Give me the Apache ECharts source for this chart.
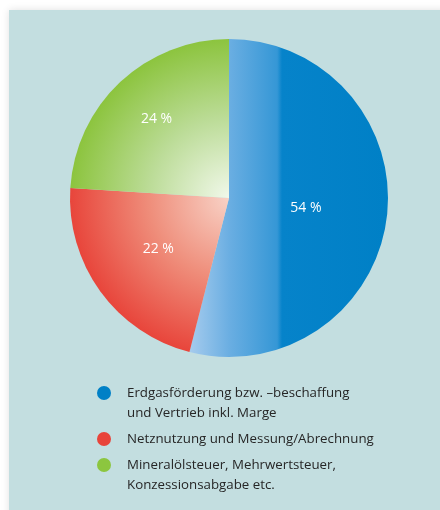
<!DOCTYPE html>
<html>
<head>
<meta charset="utf-8">
<script src="https://cdn.jsdelivr.net/npm/echarts@6/dist/echarts.min.js"></script>
<style>
  html, body { margin: 0; padding: 0; background: #fff; }
  #chart { width: 440px; height: 510px; }
</style>
</head>
<body>
<div id="chart"></div>
<script>
// Kostenanteile Gaspreis
const categories = [
  'Erdgasförderung bzw. –beschaffung\nund Vertrieb inkl. Marge',
  'Netznutzung und Messung/Abrechnung',
  'Mineralölsteuer, Mehrwertsteuer,\nKonzessionsabgabe etc.'
];
const shares = [54, 22, 24];
const dotColors = ['#0080c6', '#e8443a', '#8cc63f'];

const cx = 229, cy = 198, rad = 159;
const font = '"Open Sans", "Noto Sans", sans-serif';

const chart = echarts.init(document.getElementById('chart'), null, { renderer: 'canvas' });

// slice fills
var fills = [
  {
    type: 'linear', x: 190, y: 0, x2: 388, y2: 0, global: true,
    colorStops: [
      { offset: 0, color: '#a5cbed' },
      { offset: 0.2, color: '#6aaee2' },
      { offset: 0.44, color: '#3597d6' },
      { offset: 0.465, color: '#0683ca' },
      { offset: 1, color: '#0080c6' }
    ]
  },
  {
    type: 'radial', x: cx, y: cy, r: rad, global: true,
    colorStops: [
      { offset: 0, color: '#f8d2c6' },
      { offset: 0.5, color: '#ef8e7b' },
      { offset: 1, color: '#e8453b' }
    ]
  },
  {
    type: 'radial', x: cx, y: cy, r: rad, global: true,
    colorStops: [
      { offset: 0, color: '#f1f8ea' },
      { offset: 0.5, color: '#bcdc98' },
      { offset: 1, color: '#8cc43e' }
    ]
  }
];

var labelShift = [[-5, 0], [-4, 3], [-16, -19]];

function legendFor(i, top) {
  var twoLines = categories[i].indexOf('\n') >= 0;
  return {
    left: 97,
    top: top,
    padding: 0,
    itemWidth: 14,
    itemHeight: 14,
    icon: 'circle',
    data: [{ name: categories[i], itemStyle: { color: dotColors[i] } }],
    // blank first line keeps the dot level with the first text line
    formatter: function (name) {
      return twoLines ? '\n' + name : name;
    },
    textStyle: {
      fontFamily: font,
      fontSize: 13.3,
      color: '#262626',
      lineHeight: 20,
      padding: [0, 0, 0, 11]
    }
  };
}

var option = {
  backgroundColor: '#ffffff',
  animation: false,
  graphic: [
    {
      type: 'rect',
      shape: { x: 9, y: 10, width: 440, height: 510 },
      style: {
        fill: '#c3dee0',
        shadowBlur: 8,
        shadowColor: 'rgba(0,0,0,0.12)'
      },
      z: -10
    }
  ],
  legend: [
    legendFor(0, 363),
    legendFor(1, 429),
    legendFor(2, 435)
  ],
  series: [
    {
      type: 'pie',
      center: [cx, cy],
      radius: rad,
      startAngle: 90,
      clockwise: true,
      silent: true,
      label: {
        show: true,
        position: 'inside',
        formatter: '{c} %',
        color: '#ffffff',
        fontFamily: font,
        fontSize: 14
      },
      labelLine: { show: false },
      labelLayout: function (params) {
        var s = labelShift[params.dataIndex];
        return { dx: s[0], dy: s[1] };
      },
      itemStyle: { borderWidth: 0 },
      data: categories.map(function (name, i) {
        return { name: name, value: shares[i], itemStyle: { color: fills[i] } };
      })
    }
  ]
};

chart.setOption(option);
</script>
</body>
</html>
